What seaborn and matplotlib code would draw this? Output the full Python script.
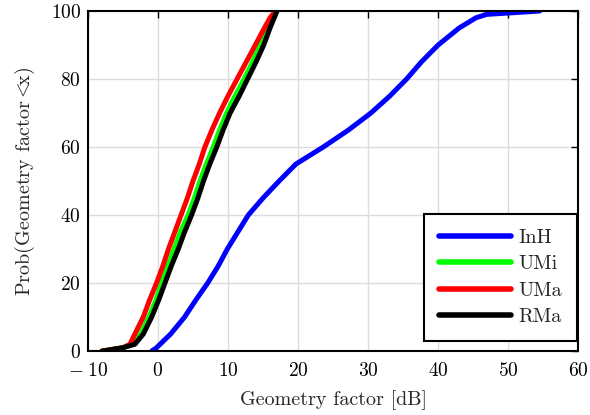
import numpy as np
import pandas as pd
import matplotlib
matplotlib.use("Agg")
import matplotlib.pyplot as plt
from matplotlib.ticker import FuncFormatter
import seaborn as sns

# CDF levels (percent) and the geometry factor (dB) reached at each level
cdf_pct = [0, 1, 2, 5, 10, 15, 20, 25, 30, 35, 40, 45, 50, 55, 60, 65, 70,
           75, 80, 85, 90, 95, 98, 99, 100]
inh_db = [-0.9, -0.2, 0.3, 1.8, 3.8, 5.4, 7.1, 8.6, 9.9, 11.4, 12.9, 15.0,
          17.3, 19.7, 23.6, 27.2, 30.4, 33.1, 35.5, 37.6, 40.0, 43.0, 45.4,
          46.9, 54.5]
umi_db = [-8.0, -5.0, -3.6, -2.5, -1.3, -0.3, 0.5, 1.4, 2.3, 3.2, 4.3, 5.2,
          6.0, 6.9, 7.9, 8.8, 9.8, 11.0, 12.3, 13.5, 14.6, 15.6, 16.3, 16.6,
          16.9]
uma_db = [-8.0, -5.0, -4.0, -3.3, -2.1, -1.2, -0.2, 0.7, 1.5, 2.4, 3.3, 4.2,
          5.0, 5.9, 6.7, 7.7, 8.8, 10.0, 11.3, 12.6, 13.9, 15.2, 16.0, 16.4,
          16.8]
rma_db = [-8.0, -5.0, -3.3, -2.1, -0.9, 0.1, 1.0, 1.9, 2.9, 3.8, 4.8, 5.7,
          6.5, 7.4, 8.4, 9.3, 10.3, 11.6, 12.8, 14.0, 15.1, 16.0, 16.6, 16.8,
          17.0]

scenarios = ["InH", "UMi", "UMa", "RMa"]
colors = ["#0000ff", "#00ff00", "#ff0000", "#000000"]
x_ticks = [-10, 0, 10, 20, 30, 40, 50, 60]
y_ticks = [0, 20, 40, 60, 80, 100]

frames = []
for name, vals in zip(scenarios, [inh_db, umi_db, uma_db, rma_db]):
    frames.append(pd.DataFrame({"db": vals, "pct": cdf_pct, "scenario": name}))
df = pd.concat(frames, ignore_index=True)

sns.set_theme(style="white")
plt.rcParams["font.family"] = "serif"
plt.rcParams["font.serif"] = ["cmr10", "DejaVu Serif"]
plt.rcParams["mathtext.fontset"] = "cm"
plt.rcParams["axes.formatter.use_mathtext"] = True
plt.rcParams["axes.unicode_minus"] = True

fig = plt.figure(figsize=(5.9, 4.15), dpi=100)
ax = fig.add_axes([0.149, 0.154, 0.831, 0.8195])

sns.lineplot(data=df, x="db", y="pct", hue="scenario", hue_order=scenarios,
             palette=dict(zip(scenarios, colors)), sort=False, estimator=None,
             linewidth=3.6, ax=ax)


def tick_fmt(v, pos):
    v = int(round(v))
    if v < 0:
        return r"$-\;%d$" % abs(v)
    return r"$%d$" % v


ax.set_xlim(-10, 60)
ax.set_ylim(0, 100)
ax.set_xticks(x_ticks)
ax.set_yticks(y_ticks)
ax.xaxis.set_major_formatter(FuncFormatter(tick_fmt))
ax.yaxis.set_major_formatter(FuncFormatter(tick_fmt))
ax.grid(True, color="#dcdcdc", linewidth=1.0, linestyle="-")
ax.set_axisbelow(True)
ax.tick_params(direction="in", length=5, width=1, top=True, right=True,
               labelsize=14, colors="black")
ax.tick_params(axis="x", pad=8)
ax.tick_params(axis="y", pad=5)
for s in ax.spines.values():
    s.set_color("black")
    s.set_linewidth(1.5)

ax.set_xlabel("Geometry factor [dB]", fontsize=14.5, labelpad=7)
ax.set_ylabel(r"Prob(Geometry factor$<\!\!\!\!\;$x)", fontsize=14.5,
              labelpad=10)

leg = ax.legend(loc="lower right", bbox_to_anchor=(0.998, 0.03),
                fontsize=14.5, frameon=True, fancybox=False, handlelength=3.6,
                labelspacing=0.4, borderpad=0.75, handletextpad=0.35,
                borderaxespad=0.0)
leg.get_frame().set_edgecolor("black")
leg.get_frame().set_linewidth(1.5)
leg.get_frame().set_alpha(1)
for line in leg.get_lines():
    line.set_linewidth(4)

fig.savefig("out.png", dpi=100)
